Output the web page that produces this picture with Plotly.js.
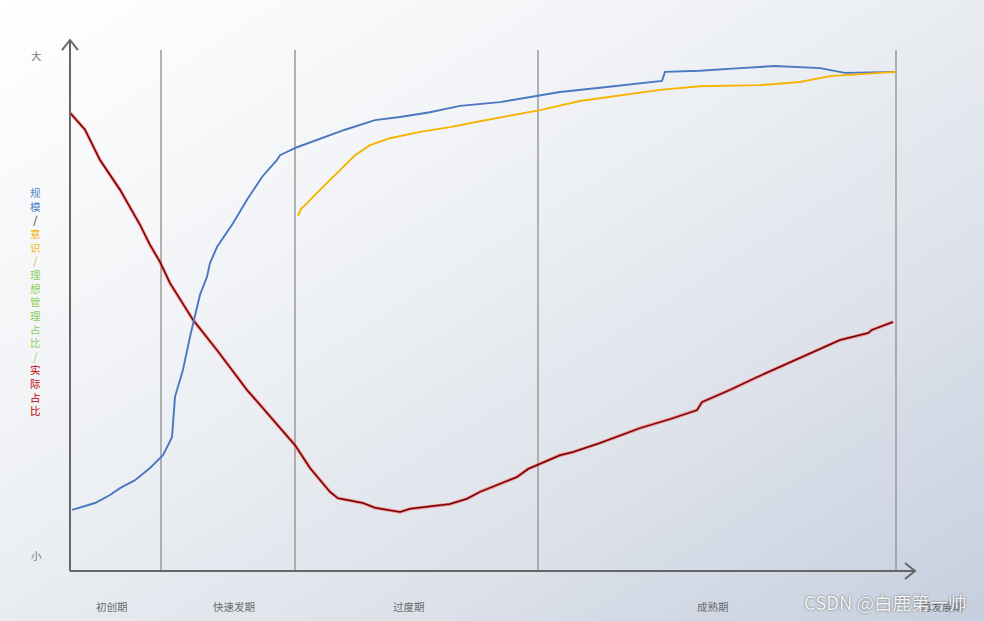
<!DOCTYPE html>
<html>
<head>
<meta charset="utf-8">
<script src="https://cdn.plot.ly/plotly-3.0.1.min.js"></script>
<style>
html,body{margin:0;padding:0;}
body{width:984px;height:621px;background:linear-gradient(to bottom right,#ffffff 0%,#f1f3f6 35%,#dde2ea 70%,#c6cfdf 100%);}
#chart{width:984px;height:621px;}
</style>
</head>
<body>
<div id="chart"></div>
<script>
// Stage boundaries (x position) and labels
const phaseBounds = [91, 225, 468, 826];
const phaseLabels = ["初创期", "快速发期", "过度期", "成熟期", "再发展期"];
const phaseLabelX = [42, 164, 339, 643, 872];

// 规模 (scale) - blue
const scaleX = [2,25,40,50,65,80,93,102,105,113,120,125,130,137,140,147,163,177,192,207,210,227,260,275,305,330,360,390,430,470,490,530,570,592,595,630,670,705,750,775,826];
const scaleY = [11.5,12.8,14.3,15.6,17.1,19.4,21.8,25.2,32.8,37.9,44.1,47.8,52.0,55.4,58.0,61.0,65.5,69.9,74.2,77.4,78.3,79.8,82.1,83.1,84.9,85.5,86.4,87.6,88.3,89.5,90.2,91.0,91.9,92.3,94.0,94.2,94.7,95.1,94.7,93.8,94.0];

// 意识 (awareness) - yellow
const awareX = [228,231,235,240,255,270,285,300,320,350,380,410,440,470,510,550,590,630,690,730,760,826];
const awareY = [66.9,68.2,68.9,69.9,72.7,75.5,78.3,80.2,81.5,82.7,83.6,84.7,85.7,86.8,88.5,89.6,90.6,91.3,91.5,92.1,93.2,94.0];

// 实际占比 (actual share) - red
const actualX = [0,15,30,50,70,80,90,100,123,147,177,197,210,225,240,260,268,293,305,330,340,357,380,397,410,447,458,490,503,530,570,600,627,632,660,687,710,737,770,798,802,823];
const actualY = [86.3,83.1,77.4,71.8,65.2,61.4,58.2,54.2,47.3,41.6,34.1,29.8,26.9,23.7,19.4,14.9,13.7,12.8,11.9,11.1,11.7,12.1,12.6,13.6,14.9,17.7,19.2,21.8,22.4,24.1,26.9,28.6,30.3,31.8,34.1,36.5,38.4,40.7,43.5,44.8,45.4,46.9];

const yTickLabels = ["小", "大"];
const yTickVals = [3, 97];

// pixel helpers for placing annotations in paper space
const L = 60, R = 64, T = 35, B = 36, W = 984, H = 621;
const X_RANGE = [-10, 850], Y_RANGE = [-2.64, 100.94];
const px2paperX = px => (px - L) / (W - L - R);
const py2paperY = py => (H - B - py) / (H - T - B);
const dataX2paper = x => (x - X_RANGE[0]) / (X_RANGE[1] - X_RANGE[0]);
const dataY2paper = y => (y - Y_RANGE[0]) / (Y_RANGE[1] - Y_RANGE[0]);

const traces = [
  {x: actualX, y: actualY, mode: "lines", line: {color: "rgba(255,70,70,0.55)", width: 3.4}, hoverinfo: "skip"},
  {x: actualX, y: actualY, mode: "lines", line: {color: "#700000", width: 1.5}, hoverinfo: "skip"},
  {x: scaleX, y: scaleY, mode: "lines", line: {color: "#4a78c0", width: 1.9}, hoverinfo: "skip"},
  {x: awareX, y: awareY, mode: "lines", line: {color: "#f5b400", width: 1.9}, hoverinfo: "skip"}
];

const shapes = [];
phaseBounds.forEach(b => {
  shapes.push({type: "line", xref: "x", yref: "y", x0: b, x1: b, y0: 0, y1: 98.1, line: {color: "#9a9a9a", width: 1.5}, layer: "below"});
});
// axes with arrow heads
shapes.push({type: "line", xref: "x", yref: "y", x0: 0, x1: 845, y0: 0, y1: 0, line: {color: "#666", width: 2}});
shapes.push({type: "line", xref: "x", yref: "y", x0: 0, x1: 0, y0: 0, y1: 100, line: {color: "#666", width: 2}});
shapes.push({type: "path", xref: "x", yref: "y", path: "M -8,98.1 L 0,100 L 8,98.1", line: {color: "#666", width: 2}});
shapes.push({type: "path", xref: "x", yref: "y", path: "M 835,1.5 L 845,0 L 835,-1.5", line: {color: "#666", width: 2}});

const annotations = [];
phaseLabels.forEach((t, i) => {
  annotations.push({x: dataX2paper(phaseLabelX[i]), y: py2paperY(606), xref: "paper", yref: "paper",
    xanchor: "center", yanchor: "middle", text: t, showarrow: false,
    font: {family: "Noto Sans CJK SC", size: 10.5, color: "#6a6a6a"}});
});
yTickLabels.forEach((t, i) => {
  annotations.push({x: px2paperX(36), y: dataY2paper(yTickVals[i]), xref: "paper", yref: "paper",
    xanchor: "center", yanchor: "middle", text: t, showarrow: false,
    font: {family: "Noto Sans CJK SC", size: 10.5, color: "#777"}});
});

const ytitle = [
  ['规','#4a7fc8'],['模','#4a7fc8'],['/','#222'],
  ['意','#f5b400'],['识','#f5b400'],['/','#c8c040'],
  ['理','#8fcf5a'],['想','#8fcf5a'],['管','#8fcf5a'],['理','#8fcf5a'],['占','#8fcf5a'],['比','#8fcf5a'],['/','#8fcf5a'],
  ['实','#c00000'],['际','#c00000'],['占','#c00000'],['比','#c00000']
].map(c => '<span style="color:' + c[1] + '">' + c[0] + '</span>').join('<br>');
annotations.push({x: px2paperX(35), y: py2paperY(301), xref: "paper", yref: "paper",
  xanchor: "center", yanchor: "middle", text: ytitle, showarrow: false, align: "center",
  font: {family: "Noto Sans CJK SC", size: 10.5}});

annotations.push({x: px2paperX(969), y: py2paperY(602), xref: "paper", yref: "paper", xanchor: "right", yanchor: "middle",
  text: "CSDN @白鹿第一帅", showarrow: false,
  font: {family: "Noto Sans CJK SC", size: 18.5, color: "#f4f4f4", shadow: "0px 0px 2px #555"}});

const layout = {
  width: W, height: H,
  margin: {l: L, r: R, t: T, b: B},
  paper_bgcolor: "rgba(0,0,0,0)",
  plot_bgcolor: "rgba(0,0,0,0)",
  showlegend: false,
  xaxis: {range: X_RANGE, showgrid: false, zeroline: false, showline: false, showticklabels: false, ticks: "", fixedrange: true},
  yaxis: {range: Y_RANGE, showgrid: false, zeroline: false, showline: false, showticklabels: false, ticks: "", fixedrange: true},
  shapes: shapes,
  annotations: annotations
};

Plotly.newPlot("chart", traces, layout, {displayModeBar: false, staticPlot: true});
</script>
</body>
</html>
